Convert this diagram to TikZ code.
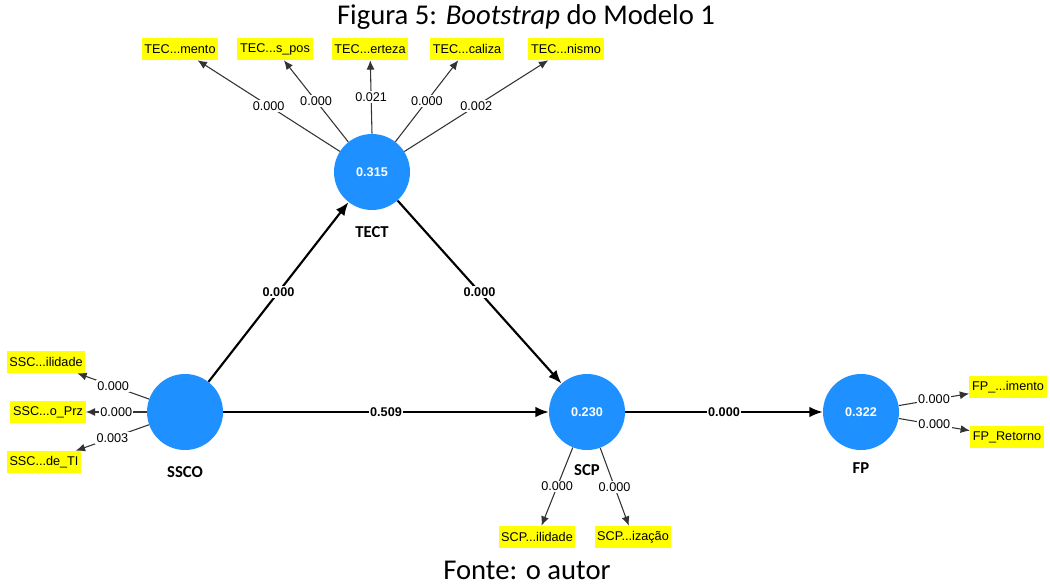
\documentclass[tikz,border=0pt]{standalone}
\usepackage{fontspec}
\setmainfont{Liberation Sans}
\newfontfamily\calibri{Carlito}
\usetikzlibrary{arrows.meta}
\definecolor{lvblue}{RGB}{30,144,255}
\definecolor{indyellow}{RGB}{255,255,0}
\begin{document}
\begin{tikzpicture}[x=0.75pt,y=-0.75pt,>={Latex[length=7pt,width=6pt]},
  lv/.style={circle,fill=lvblue,minimum size=57pt,inner sep=0pt,text=white,
    font=\fontsize{9.5}{11}\selectfont\bfseries},
  ind/.style={fill=indyellow,minimum height=16.5pt,inner xsep=2pt,
    font=\fontsize{9.5}{11}\selectfont},
  lvname/.style={font=\calibri\fontsize{12.5}{14}\selectfont\bfseries},
  loading/.style={->,draw=black!80,line width=0.8pt},
  struct/.style={-{Latex[length=10pt,width=8pt]},line width=1.6pt},
  val/.style={fill=white,inner sep=1pt,font=\fontsize{9.5}{11}\selectfont},
  bval/.style={val,font=\fontsize{9.5}{11}\selectfont\bfseries},
  caption/.style={anchor=base,inner sep=0pt,font=\calibri\fontsize{21.5}{25}\selectfont}]
\useasboundingbox (0,0) rectangle (1050,585);
% titulo e fonte
\node[caption] (title) at (526,25) {Figura 5: \textit{Bootstrap} do Modelo 1};
\node[caption] (fonte) at (527,579) {Fonte: o autor};
% construtos
\node[lv] (tect) at (372,172) {0.315};
\node[lv] (ssco) at (185,412) {};
\node[lv] (scp) at (587,412) {0.230};
\node[lv] (fp) at (861,412) {0.322};
\node[lvname] (tectname) at (372,232) {TECT};
\node[lvname] (ssconame) at (185,472) {SSCO};
\node[lvname] (scpname) at (587,470) {SCP};
\node[lvname] (fpname) at (861,468) {FP};
% indicadores
\node[ind] (tec1) at (180,49) {TEC...mento};
\node[ind] (tec2) at (275,49) {TEC...s\_pos};
\node[ind] (tec3) at (370,49) {TEC...erteza};
\node[ind] (tec4) at (467,49) {TEC...caliza};
\node[ind] (tec5) at (566,49) {TEC...nismo};
\node[ind] (ssc1) at (46,362) {SSC...ilidade};
\node[ind] (ssc2) at (48,412) {SSC...o\_Prz};
\node[ind] (ssc3) at (44,462) {SSC...de\_TI};
\node[ind] (scp1) at (537,537) {SCP...ilidade};
\node[ind] (scp2) at (633,537) {SCP...ização};
\node[ind] (fp1) at (1008,387) {FP\_...imento};
\node[ind] (fp2) at (1007,437) {FP\_Retorno};
% cargas
\draw[loading] (tect) -- node[val]{0.000} (tec1);
\draw[loading] (tect) -- node[val]{0.000} (tec2);
\draw[loading] (tect.north) -- node[val]{0.021} (tec3);
\draw[loading] (tect) -- node[val]{0.000} (tec4);
\draw[loading] (tect) -- node[val]{0.002} (tec5);
\draw[loading] (ssco) -- node[val]{0.000} (ssc1);
\draw[loading] (ssco) -- node[val]{0.000} (ssc2);
\draw[loading] (ssco) -- node[val]{0.003} (ssc3);
\draw[loading] (scp) -- node[val]{0.000} (scp1);
\draw[loading] (scp) -- node[val]{0.000} (scp2);
\draw[loading] (fp) -- node[val]{0.000} (fp1);
\draw[loading] (fp) -- node[val]{0.000} (fp2);
% caminhos estruturais
\draw[struct] (ssco) -- node[bval]{0.000} (tect);
\draw[struct] (tect) -- node[bval]{0.000} (scp);
\draw[struct] (ssco) -- node[bval]{0.509} (scp);
\draw[struct] (scp) -- node[bval]{0.000} (fp);
\end{tikzpicture}
\end{document}
